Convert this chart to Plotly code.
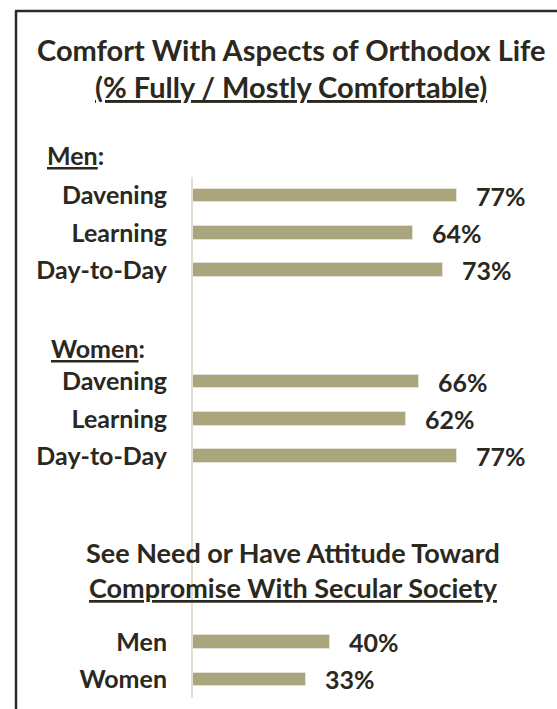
import plotly.graph_objects as go

# ---- data ----
men_items = ["Davening", "Learning", "Day-to-Day"]
men_values = [77, 64, 73]
women_items = ["Davening", "Learning", "Day-to-Day"]
women_values = [66, 62, 77]
compromise_items = ["Men", "Women"]
compromise_values = [40, 33]

title_line1 = "Comfort With Aspects of Orthodox Life"
title_line2 = "(% Fully / Mostly Comfortable)"
men_header = "Men"
women_header = "Women"
sub_title1 = "See Need or Have Attitude Toward"
sub_title2 = "Compromise With Secular Society"

# ---- layout constants ----
W, H = 557, 709
ML, MR, MT, MB = 193, 0, 177, 11
PW, PH = W - ML - MR, H - MT - MB
FONT = "Lato"
TXT = "#2b2820"
BAR = "#a9a67d"

# slot positions: groups separated by blank rows
labels, values, slots = [], [], []
pos = 0
for items, vals, gap_after in [(men_items, men_values, 2), (women_items, women_values, 4),
                               (compromise_items, compromise_values, 0)]:
    for it, v in zip(items, vals):
        labels.append(it)
        values.append(v)
        slots.append(pos)
        pos += 1
    pos += gap_after

n_slots = slots[-1] + 1
px_per_unit = 3.43
xmax = PW / px_per_unit


def px_x(p):
    return (p - ML) / PW


def px_y(p):
    return (H - MB - p) / PH


fig = go.Figure()
fig.add_trace(go.Bar(
    x=values, y=slots, orientation="h",
    marker=dict(color=BAR, line=dict(color="#e4e2d6", width=1)),
    width=0.36, hoverinfo="skip",
))

annotations = []
for v, s in zip(values, slots):
    annotations.append(dict(x=v, y=s, xref="x", yref="y", text=f"{v}%", showarrow=False,
                            xanchor="left", yanchor="middle", xshift=17,
                            font=dict(family=FONT, size=25, color=TXT, weight="bold")))


def txt(text, x, y, xanchor="center", size=25):
    annotations.append(dict(x=px_x(x), y=px_y(y), xref="paper", yref="paper", text=text,
                            showarrow=False, xanchor=xanchor, yanchor="middle",
                            font=dict(family=FONT, size=size, color=TXT, weight="bold")))


txt(title_line1, 291, 50, size=29)
txt(f"<u>{title_line2}</u>", 291, 86, size=29)
txt(f"<u>{men_header}</u>:", 45, 155, xanchor="left")
txt(f"<u>{women_header}</u>:", 49, 348, xanchor="left")
txt(sub_title1, 293, 552, size=27)
txt(f"<u>{sub_title2}</u>", 293, 587, size=27)

border_col = "#2d2a22"
shapes = [
    dict(type="line", xref="paper", yref="paper", x0=px_x(16), x1=px_x(16), y0=px_y(H + 5), y1=px_y(11),
         line=dict(color=border_col, width=2.5)),
    dict(type="line", xref="paper", yref="paper", x0=px_x(15), x1=px_x(W + 5), y0=px_y(11), y1=px_y(11),
         line=dict(color=border_col, width=2.5)),
]

fig.update_layout(
    width=W, height=H,
    margin=dict(l=ML, r=MR, t=MT, b=MB, pad=0),
    paper_bgcolor="white", plot_bgcolor="white",
    showlegend=False,
    annotations=annotations,
    shapes=shapes,
    bargap=0,
    xaxis=dict(range=[0, xmax], visible=False, fixedrange=True),
    yaxis=dict(range=[n_slots - 0.5, -0.5], tickvals=slots, ticktext=labels,
               showgrid=False, zeroline=False, showline=True, linecolor="#e2dfd2", linewidth=2,
               ticks="", ticklabelstandoff=19,
               tickfont=dict(family=FONT, size=25, color=TXT, weight="bold"),
               fixedrange=True),
)

fig.write_html("out.html", config={"displayModeBar": False},
               post_script="document.body.style.margin='0px';document.body.style.overflow='hidden';")
